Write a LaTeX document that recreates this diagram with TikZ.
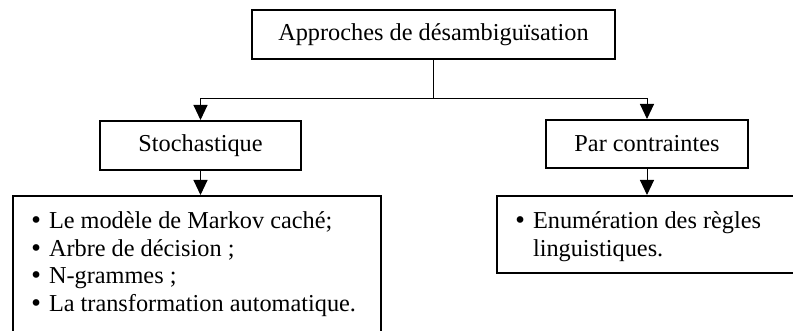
\documentclass[tikz,border=0pt]{standalone}
\usepackage{fontspec}
\setmainfont{Liberation Serif}
\newfontfamily\pucefont{DejaVu Sans}
\usetikzlibrary{arrows.meta,positioning,calc}

\newcommand{\puce}{\leavevmode\llap{{\pucefont\fontsize{11.5}{13}\selectfont •}\hspace{3pt}}}

\begin{document}
\begin{tikzpicture}[x=0.5pt, y=-0.5pt, >={Triangle[width=7pt,length=7.5pt]},
  box/.style={draw, line width=1pt, minimum height=24.5pt,
    font=\fontsize{12.15}{13.7}\selectfont},
  listbox/.style={draw, line width=1pt, anchor=north west, inner sep=0pt,
    text height=16.5pt, font=\fontsize{12.15}{13.7}\selectfont},
  link/.style={line width=0.5pt}]
  \useasboundingbox (0,0) rectangle (793,331);
  \clip (0,0) rectangle (793,331);

  % Racine
  \node[box, minimum width=181.5pt] (approches) at (433.5,34.5) {Approches de désambiguïsation};

  % Deux familles
  \node[box, minimum width=100.5pt] (stoch) at (200.5,145.5) {Stochastique};
  \node[box, minimum width=101pt, minimum height=24pt] (contr) at (647,144) {Par contraintes};

  % Listes
  \node[listbox, text depth=56pt] (stochlist) at (12,195) {\parbox[t]{184pt}{\leftskip=18pt
    \puce Le modèle de Markov caché;\par
    \puce Arbre de décision ;\par
    \puce N-grammes ;\par
    \puce La transformation automatique.}};
  \node[listbox, text depth=22pt] (contrlist) at (496,195) {\parbox[t]{151pt}{\leftskip=18pt
    \puce Enumération des règles\\
    linguistiques.}};

  % Liaisons
  \coordinate[below=19.5pt of approches.south] (fork);
  \draw[link] (approches.south) -- (fork);
  \draw[link, ->] (fork) -| (stoch.north);
  \draw[link, ->] (fork) -| (contr.north);
  \draw[link, ->] (stoch.south) -- (stoch.south |- stochlist.north);
  \draw[link, ->] (contr.south) -- (contr.south |- contrlist.north);
\end{tikzpicture}
\end{document}
